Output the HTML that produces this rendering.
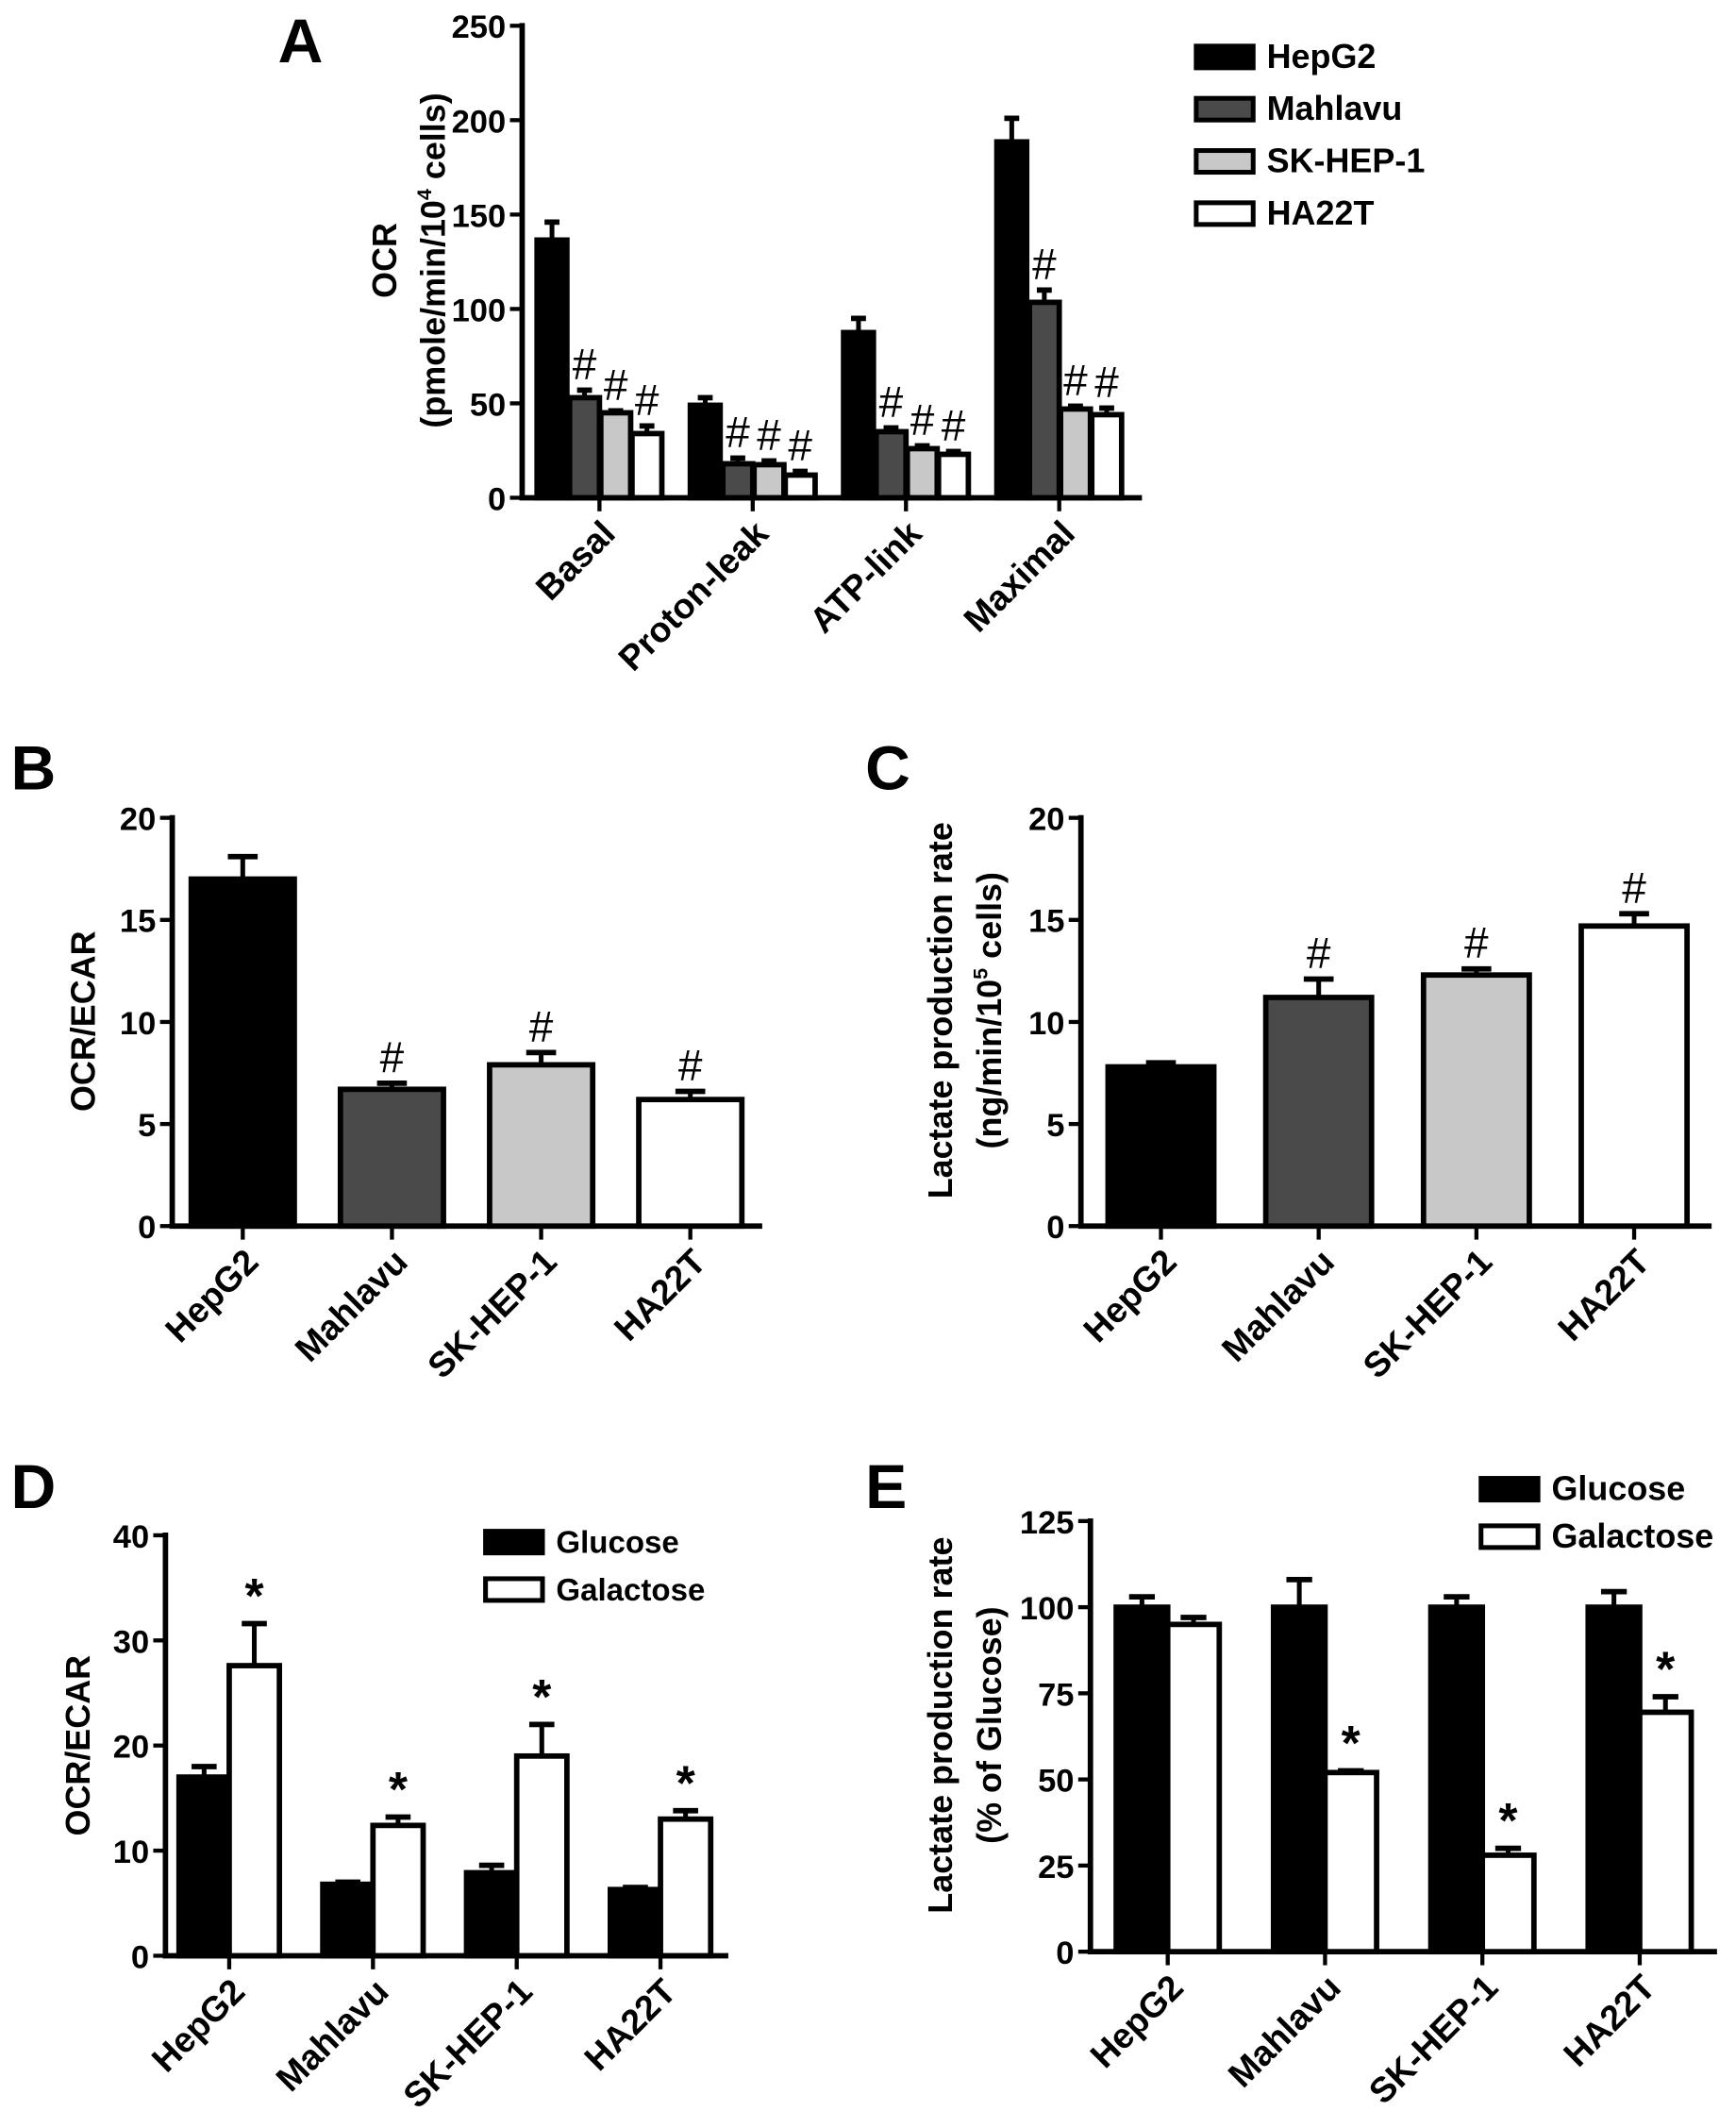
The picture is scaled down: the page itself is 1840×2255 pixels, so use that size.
<!DOCTYPE html>
<html><head><meta charset="utf-8"><style>
html,body{margin:0;padding:0;background:#fff}
svg{display:block}
text{font-family:"Liberation Sans",Arial,sans-serif;font-weight:bold;fill:#000}
</style></head><body>
<svg id="fig" width="1840" height="2255" viewBox="0 0 1280 1569" preserveAspectRatio="none" xmlns="http://www.w3.org/2000/svg"></svg>
<script>
// ---- Panel A data ----
const aCategories = ["Basal","Proton-leak","ATP-link","Maximal"];
const aSeries = ["HepG2","Mahlavu","SK-HEP-1","HA22T"];
const aHepG2 = [136.5, 49, 87.5, 188.5];
const aHepG2Err = [146, 53, 95, 201];
const aMahlavu = [53, 18, 35, 103.5];
const aMahlavuErr = [57, 21, 37, 110];
const aSKHEP1 = [45, 17.5, 26, 47];
const aSKHEP1Err = [46, 19.5, 27.5, 48.5];
const aHA22T = [34, 12, 23, 44];
const aHA22TErr = [38, 14, 24.5, 47.5];
const aTicks = [0,50,100,150,200,250];
// ---- Panel B data ----
const bCategories = ["HepG2","Mahlavu","SK-HEP-1","HA22T"];
const bValues = [17, 6.7, 7.9, 6.2];
const bErr = [18.1, 7.0, 8.5, 6.6];
const bTicks = [0,5,10,15,20];
// ---- Panel C data ----
const cCategories = ["HepG2","Mahlavu","SK-HEP-1","HA22T"];
const cValues = [7.8, 11.2, 12.3, 14.7];
const cErr = [8.0, 12.1, 12.6, 15.3];
const cTicks = [0,5,10,15,20];
// ---- Panel D data ----
const dCategories = ["HepG2","Mahlavu","SK-HEP-1","HA22T"];
const dGlucose = [17, 6.8, 7.9, 6.3];
const dGlucoseErr = [18, 7.0, 8.6, 6.5];
const dGalactose = [27.6, 12.4, 19, 13];
const dGalactoseErr = [31.6, 13.2, 22, 13.8];
const dTicks = [0,10,20,30,40];
// ---- Panel E data ----
const eCategories = ["HepG2","Mahlavu","SK-HEP-1","HA22T"];
const eGlucose = [100, 100, 100, 100];
const eGlucoseErr = [103, 108, 103, 104.5];
const eGalactose = [95, 52, 28, 69.5];
const eGalactoseErr = [97, 52.5, 30, 74];
const eTicks = [0,25,50,75,100,125];

const NS="http://www.w3.org/2000/svg";
const svg=document.getElementById('fig');
function el(tag,attrs,parent){const e=document.createElementNS(NS,tag);for(const k in attrs)e.setAttribute(k,attrs[k]);(parent||svg).appendChild(e);return e;}
function txt(s,attrs,parent){const t=el('text',attrs,parent);t.textContent=s;return t;}

function axes(g,x0,y0,yTop,xEnd,ticks,yScale,catX,cats,fs){
  const ax=el('line',{x1:x0,y1:y0,x2:x0,y2:yTop-2,stroke:'#000','stroke-width':4},g);
  
  
  const xx=el('line',{x1:x0-2,y1:y0,x2:xEnd,y2:y0,stroke:'#000','stroke-width':4},g);
  
  
  ticks.forEach(v=>{const y=yScale(v);
    el('line',{x1:x0-9,y1:y,x2:x0,y2:y,stroke:'#000','stroke-width':3},g);
    const t=txt(String(v),{x:x0-12,y:y+9,'text-anchor':'end','font-size':fs},g);
    
    
  });
  cats.forEach((c,i)=>{const x=catX(i);
    el('line',{x1:x,y1:y0,x2:x,y2:y0+10,stroke:'#000','stroke-width':3},g);
    const t=txt(c,{x:x+13,y:y0+28,'text-anchor':'end','font-size':26,transform:`rotate(-45 ${x+13} ${y0+28})`},g);
    
    
  });
}
function bar(g,cx,w,y0,yTop,yErr,fill,name,mark){
  const r=el('rect',{x:cx-w/2,y:yTop,width:w,height:y0-yTop,fill:fill,stroke:'#000','stroke-width':4},g);
  
  
  const cw=Math.min(w*0.5,22);
  el('line',{x1:cx,y1:yTop,x2:cx,y2:yErr,stroke:'#000','stroke-width':3.5},g);
  el('line',{x1:cx-cw/2,y1:yErr,x2:cx+cw/2,y2:yErr,stroke:'#000','stroke-width':4},g);
  if(mark){const t=txt(mark,{x:cx,y:yErr-8,'text-anchor':'middle','font-size':mark==='*'?36:32},g);
    t.style.fontWeight=mark==='*'?'bold':'normal';
    
    }
}
function legendEntry(g,x,y,fill,label,fs){
  const gg=el('g',{},g);
  
  
  el('rect',{x:x,y:y-8,width:42,height:16,fill:fill,stroke:'#000','stroke-width':3.5},gg);
  txt(label,{x:x+52,y:y+8,'font-size':fs},gg);
}

// ---- Panel A ----
(function(){
  const g=el('g',{});
  const x0=385,y0=367,yT=19; const ys=v=>y0-(v/250)*(y0-yT);
  const cx=i=>442+i*113;
  txt('A',{x:205,y:46,'font-size':46},g);
  axes(g,x0,y0,yT,842,aTicks,ys,cx,aCategories,24);
  const fills=['#000','#4a4a4a','#c8c8c8','#fff'];
  const vals=[aHepG2,aMahlavu,aSKHEP1,aHA22T], errs=[aHepG2Err,aMahlavuErr,aSKHEP1Err,aHA22TErr];
  const offs=[-35,-11,12,35];
  aCategories.forEach((c,i)=>{vals.forEach((s,j)=>{
    bar(g,cx(i)+offs[j],22,y0,ys(s[i]),ys(errs[j][i]),fills[j],'bar-'+aSeries[j].toLowerCase()+'-'+c.toLowerCase(),j>0?'#':null);
  });});
  const t1=txt('OCR',{x:0,y:0,'font-size':25,'text-anchor':'middle',transform:'translate(292,192) rotate(-90)'},g);
  
  const t2=el('text',{x:0,y:0,'font-size':25,'text-anchor':'middle',transform:'translate(328,192) rotate(-90)'},g);
  
  t2.innerHTML='(pmole/min/10<tspan dy="-10" font-size="15">4</tspan><tspan dy="10"> cells)</tspan>';
  aSeries.forEach((s,j)=>legendEntry(g,882,42+j*38.5,fills[j],s,25));
})();

// ---- Panel B ----
(function(){
  const g=el('g',{});
  const x0=127,y0=904,yT=603; const ys=v=>y0-(v/20)*(y0-yT);
  const cx=i=>179+i*110;
  txt('B',{x:8,y:582,'font-size':46},g);
  axes(g,x0,y0,yT,562,bTicks,ys,cx,bCategories,24);
  const fills=['#000','#4a4a4a','#c8c8c8','#fff'];
  bCategories.forEach((c,i)=>bar(g,cx(i),76,y0,ys(bValues[i]),ys(bErr[i]),fills[i],'bar-'+c.toLowerCase(),i>0?'#':null));
  const t=txt('OCR/ECAR',{x:0,y:0,'font-size':25,'text-anchor':'middle',transform:'translate(70,753) rotate(-90)'},g);
  
})();

// ---- Panel C ----
(function(){
  const g=el('g',{});
  const x0=797,y0=904,yT=603; const ys=v=>y0-(v/20)*(y0-yT);
  const cx=i=>856+i*116.3;
  txt('C',{x:638,y:582,'font-size':46},g);
  axes(g,x0,y0,yT,1262,cTicks,ys,cx,cCategories,24);
  const fills=['#000','#4a4a4a','#c8c8c8','#fff'];
  cCategories.forEach((c,i)=>bar(g,cx(i),78,y0,ys(cValues[i]),ys(cErr[i]),fills[i],'bar-'+c.toLowerCase(),i>0?'#':null));
  const t=txt('Lactate production rate',{x:0,y:0,'font-size':25,'text-anchor':'middle',transform:'translate(702,745) rotate(-90)'},g);
  
  const t2=el('text',{x:0,y:0,'font-size':25,'text-anchor':'middle',transform:'translate(738,745) rotate(-90)'},g);
  
  t2.innerHTML='(ng/min/10<tspan dy="-10" font-size="15">5</tspan><tspan dy="10"> cells)</tspan>';
})();

// ---- Panel D ----
(function(){
  const g=el('g',{});
  const x0=122,y0=1442,yT=1132; const ys=v=>y0-(v/40)*(y0-yT);
  const cx=i=>169+i*106;
  txt('D',{x:8,y:1112,'font-size':46},g);
  axes(g,x0,y0,yT,537,dTicks,ys,cx,dCategories,24);
  dCategories.forEach((c,i)=>{
    bar(g,cx(i)-18.5,37,y0,ys(dGlucose[i]),ys(dGlucoseErr[i]),'#000','bar-glucose-'+c.toLowerCase(),null);
    bar(g,cx(i)+18.5,37,y0,ys(dGalactose[i]),ys(dGalactoseErr[i]),'#fff','bar-galactose-'+c.toLowerCase(),'*');
  });
  legendEntry(g,358,1137,'#000','Glucose',23);
  legendEntry(g,358,1172,'#fff','Galactose',23);
  const t=txt('OCR/ECAR',{x:0,y:0,'font-size':25,'text-anchor':'middle',transform:'translate(66,1287) rotate(-90)'},g);
  
})();

// ---- Panel E ----
(function(){
  const g=el('g',{});
  const x0=804,y0=1439,yT=1121.5; const ys=v=>y0-(v/125)*(y0-yT);
  const cx=i=>861+i*116;
  txt('E',{x:638,y:1112,'font-size':46},g);
  axes(g,x0,y0,yT,1266,eTicks,ys,cx,eCategories,24);
  eCategories.forEach((c,i)=>{
    bar(g,cx(i)-19,38,y0,ys(eGlucose[i]),ys(eGlucoseErr[i]),'#000','bar-glucose-'+c.toLowerCase(),null);
    bar(g,cx(i)+19,38,y0,ys(eGalactose[i]),ys(eGalactoseErr[i]),'#fff','bar-galactose-'+c.toLowerCase(),i>0?'*':null);
  });
  legendEntry(g,1092,1098,'#000','Glucose',25);
  legendEntry(g,1092,1133,'#fff','Galactose',25);
  const t=txt('Lactate production rate',{x:0,y:0,'font-size':25,'text-anchor':'middle',transform:'translate(702,1272) rotate(-90)'},g);
  
  const t2=txt('(% of Glucose)',{x:0,y:0,'font-size':25,'text-anchor':'middle',transform:'translate(738,1272) rotate(-90)'},g);
  
})();
</script>
</body></html>
